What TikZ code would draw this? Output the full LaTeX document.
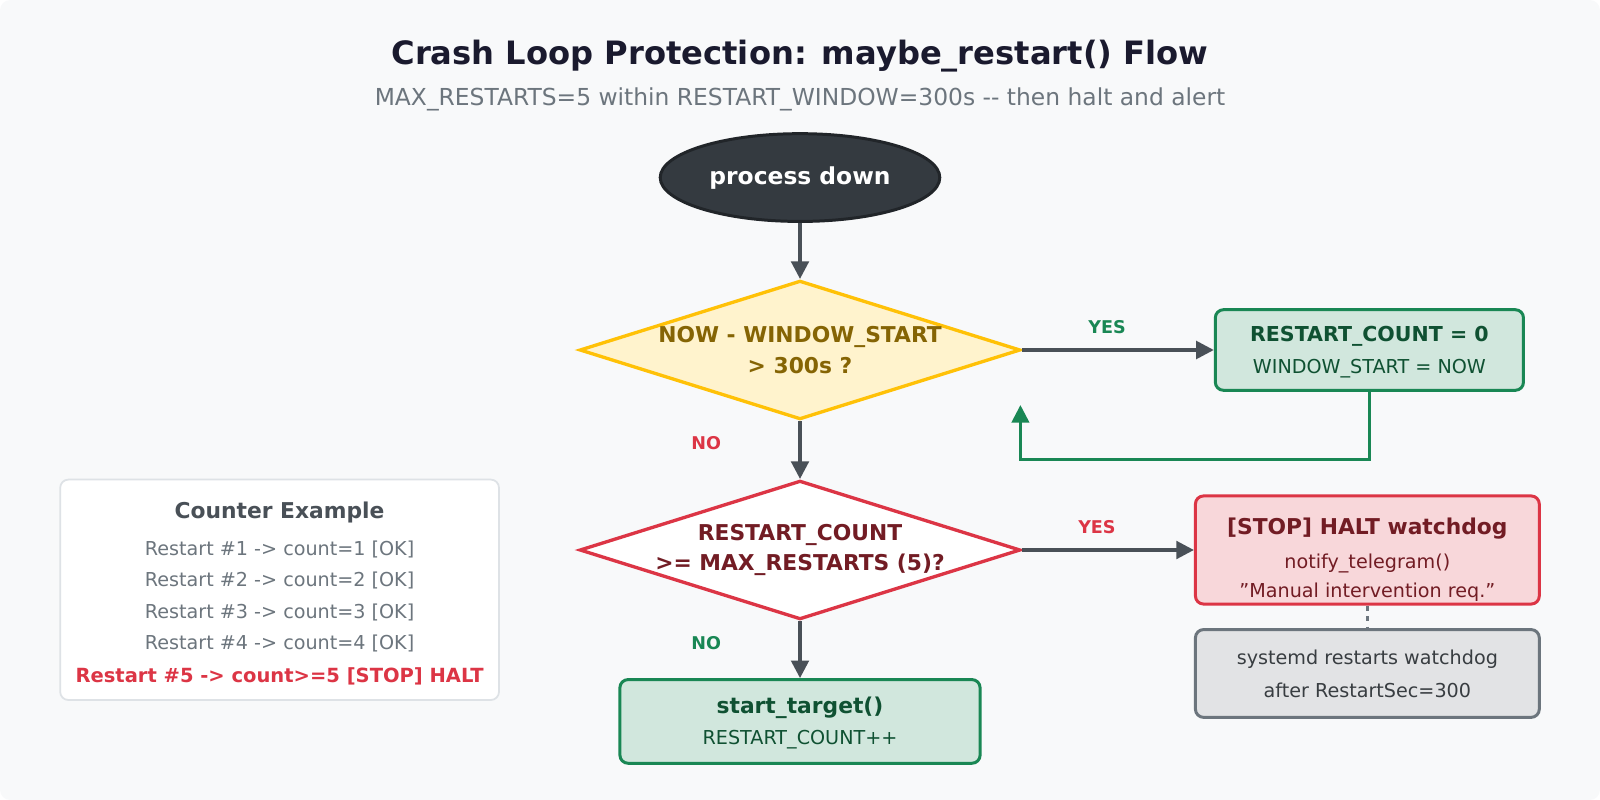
\documentclass[tikz,border=0pt]{standalone}
\usepackage{fontspec}
\setmainfont{DejaVu Sans}
\usepackage{tikz}
\usetikzlibrary{arrows.meta,shapes.geometric}
\newlength\pxu
\setlength\pxu{0.0204082cm}
\definecolor{bgpage}{HTML}{F8F9FA}
\definecolor{inkdark}{HTML}{1A1A2E}
\definecolor{inkgrey}{HTML}{6C757D}
\definecolor{arrowgrey}{HTML}{495057}
\definecolor{nodedark}{HTML}{343A40}
\definecolor{nodedarkline}{HTML}{212529}
\definecolor{warnfill}{HTML}{FFF3CD}
\definecolor{warnline}{HTML}{FFC107}
\definecolor{warntext}{HTML}{856404}
\definecolor{okfill}{HTML}{D1E7DD}
\definecolor{okline}{HTML}{198754}
\definecolor{oktext}{HTML}{0F5132}
\definecolor{badfill}{HTML}{F8D7DA}
\definecolor{badline}{HTML}{DC3545}
\definecolor{badtext}{HTML}{721C24}
\definecolor{sysfill}{HTML}{E2E3E5}
\definecolor{systext}{HTML}{383D41}
\definecolor{cardline}{HTML}{DEE2E6}
\tikzset{
  box/.style={rectangle, rounded corners=8\pxu, line width=1.7pt, align=center,
    inner sep=0pt},
  flow/.style={-{Triangle[length=10pt,width=10pt]}, line width=1.9pt, draw=arrowgrey},
  tag/.style={font=\fontsize{10}{12}\selectfont\bfseries},
  big/.style={font=\fontsize{11.7}{14}\selectfont\bfseries},
  small/.style={font=\fontsize{10.9}{13}\selectfont}
}
\begin{document}
\begin{tikzpicture}[x=1\pxu, y=-1\pxu]
    % page
    \fill [bgpage, rounded corners=10\pxu] (0, 0) rectangle (1568, 784);
    \useasboundingbox (0, 0) rectangle (1568, 784);

    % title
    \node[text=inkdark, font=\fontsize{18.3}{22}\selectfont\bfseries](title) at (784, 55)
      {Crash Loop Protection: maybe\_restart() Flow};
    \node[text=inkgrey, font=\fontsize{13.3}{16}\selectfont](subtitle) at (784, 97)
      {MAX\_RESTARTS=5 within RESTART\_WINDOW=300s {-}{-} then halt and alert};

    % process down
    \node[ellipse, minimum width=274\pxu, minimum height=86\pxu, fill=nodedark,
      draw=nodedarkline, line width=1.7pt, text=white,
      font=\fontsize{13.3}{16}\selectfont\bfseries](down) at (784, 174){process down};

    % window check
    \node[diamond, minimum width=432\pxu, minimum height=136\pxu, inner sep=0pt,
      fill=warnfill, draw=warnline, line width=1.9pt](window) at (784, 343){};
    \node[text=warntext, align=center, font=\fontsize{12.4}{17.5}\selectfont\bfseries]
      (windowtxt) at (784, 343){NOW - WINDOW\_START\\> 300s ?};

    % reset
    \node[box, fill=okfill, draw=okline, minimum width=302\pxu, minimum height=79\pxu]
      (reset) at (1342, 343){};
    \node[text=oktext, big](resettop) at (1342, 330){RESTART\_COUNT = 0};
    \node[text=oktext, small](resetbot) at (1342, 361){WINDOW\_START = NOW};

    % count check
    \node[diamond, minimum width=432\pxu, minimum height=136\pxu, inner sep=0pt,
      fill=white, draw=badline, line width=1.9pt](count) at (784, 539){};
    \node[text=badtext, align=center, font=\fontsize{12.4}{17.5}\selectfont\bfseries]
      (counttxt) at (784, 539){RESTART\_COUNT\\>= MAX\_RESTARTS (5)?};

    % halt
    \node[box, fill=badfill, draw=badline, minimum width=337\pxu, minimum height=106\pxu]
      (halt) at (1340, 539){};
    \node[text=badtext, font=\fontsize{12.4}{14}\selectfont\bfseries](halttop) at (1340, 518)
      {[STOP] HALT watchdog};
    \node[text=badtext, small](haltmid) at (1340, 552){notify\_telegram()};
    \node[text=badtext, small](haltbot) at (1340, 580){\char"22 Manual intervention req.\char"22};

    % systemd
    \node[box, fill=sysfill, draw=inkgrey, minimum width=337\pxu, minimum height=86\pxu]
      (systemd) at (1340, 660){};
    \node[text=systext, small](systop) at (1340, 646){systemd restarts watchdog};
    \node[text=systext, small](sysbot) at (1340, 677){after RestartSec=300};

    % start target
    \node[box, fill=okfill, draw=okline, minimum width=353\pxu, minimum height=82\pxu]
      (start) at (784, 707){};
    \node[text=oktext, font=\fontsize{12.4}{14}\selectfont\bfseries](starttop) at (784, 694)
      {start\_target()};
    \node[text=oktext, small](startbot) at (784, 725){RESTART\_COUNT++};

    % counter example
    \node[box, fill=white, draw=cardline, line width=1pt, minimum width=430\pxu,
      minimum height=216\pxu](card) at (274, 578){};
    \node[text=arrowgrey, font=\fontsize{12.4}{14}\selectfont\bfseries](cardtitle) at (274, 502)
      {Counter Example};
    \foreach \i/\y in {1/538, 2/569, 3/600, 4/631}
      \node[text=inkgrey, small](ex\i) at (274, \y){Restart \#\i{} -> count=\i{} [OK]};
    \node[text=badline, font=\fontsize{11.1}{13}\selectfont\bfseries](ex5) at (274, 663)
      {Restart \#5 -> count>=5 [STOP] HALT};

    % connectors
    \draw [flow] (down) -- (window);
    \draw [flow] (window) -- (reset);
    \draw [flow] (window) -- (count);
    \draw [flow] (count) -- (halt);
    \draw [flow] (count) -- (start);
    \coordinate (back) at (1000, 397);
    \draw [-{Triangle[length=10pt,width=10pt]}, line width=1.5pt, draw=okline]
      (reset.south) |- (1000, 450) -- (back);
    \draw [dashed, line width=1.6pt, draw=inkgrey] (halt) -- (systemd);

    % labels
    \node[tag, text=okline](yes1) at (1085, 321){YES};
    \node[tag, text=badline](no1) at (692, 434){NO};
    \node[tag, text=badline](yes2) at (1075, 517){YES};
    \node[tag, text=okline](no2) at (692, 630){NO};
\end{tikzpicture}
\end{document}
